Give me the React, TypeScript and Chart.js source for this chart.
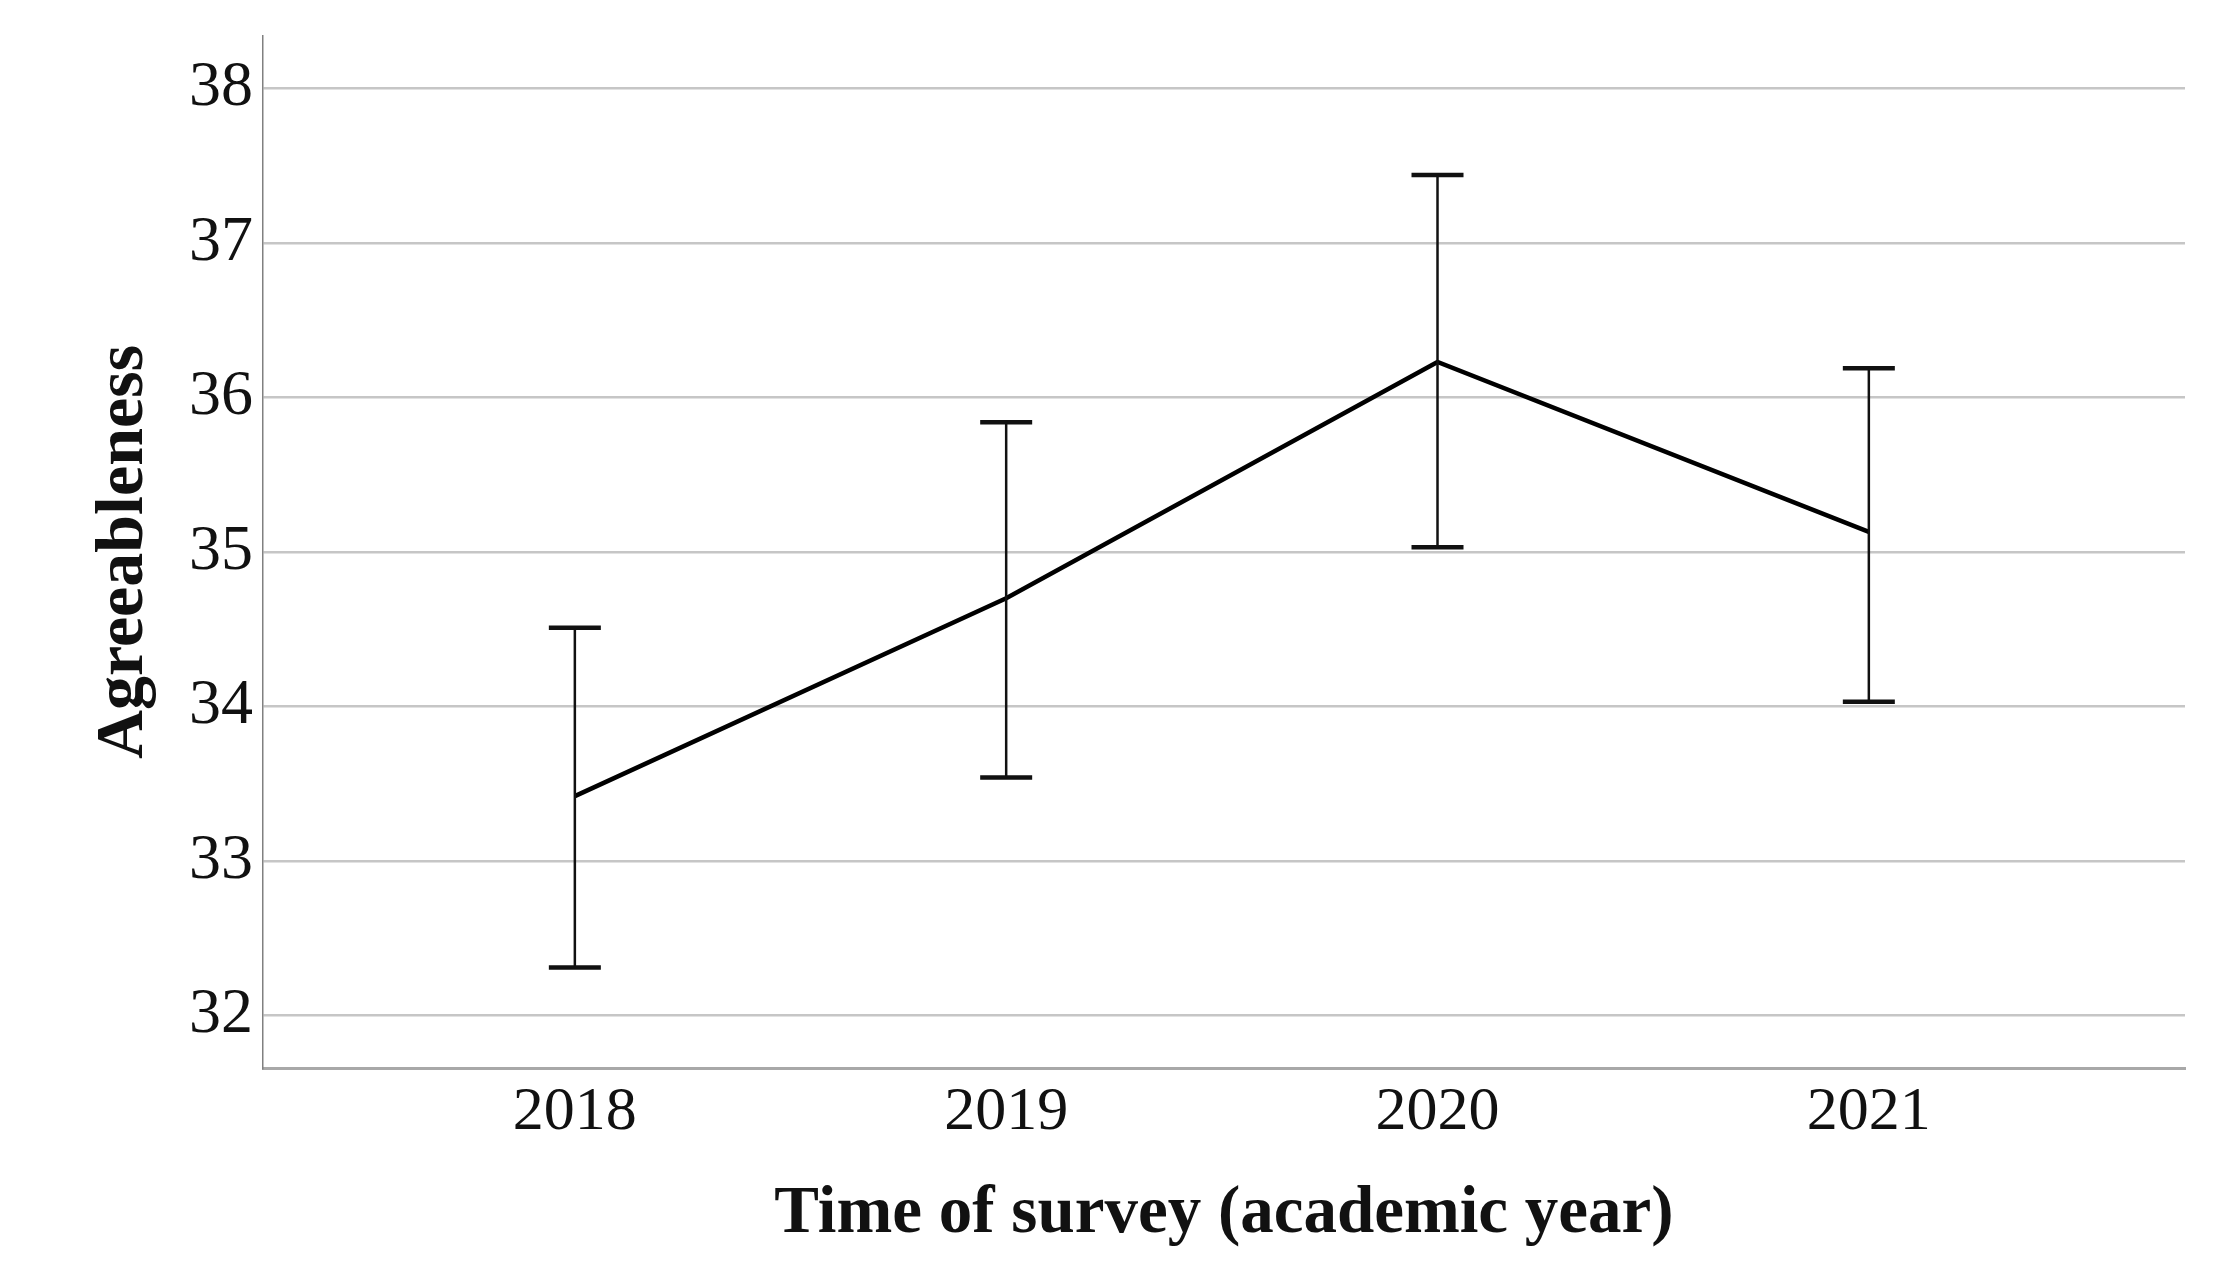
import React, { useEffect, useRef } from "react";
import { Chart, registerables } from "chart.js";

Chart.register(...registerables);

const years = ["2018", "2019", "2020", "2021"];
const means = [33.42, 34.7, 36.23, 35.13];
const lowerCI = [32.31, 33.54, 35.03, 34.03];
const upperCI = [34.51, 35.84, 37.44, 36.19];
const yTicks = [32, 33, 34, 35, 36, 37, 38];
const xTicks = [0, 1, 2, 3];

const errorBarPlugin = {
  id: "errorBars",
  afterDatasetsDraw(chart: any) {
    const ctx = chart.ctx;
    const xs = chart.scales.x;
    const ys = chart.scales.y;
    ctx.save();
    ctx.strokeStyle = "#111";
    ctx.lineCap = "butt";
    for (let i = 0; i < years.length; i++) {
      const px = xs.getPixelForValue(i);
      const pLo = ys.getPixelForValue(lowerCI[i]);
      const pHi = ys.getPixelForValue(upperCI[i]);
      ctx.lineWidth = 2.5;
      ctx.beginPath();
      ctx.moveTo(px, pLo);
      ctx.lineTo(px, pHi);
      ctx.stroke();
      ctx.lineWidth = 4.5;
      ctx.beginPath();
      ctx.moveTo(px - 26, pLo);
      ctx.lineTo(px + 26, pLo);
      ctx.moveTo(px - 26, pHi);
      ctx.lineTo(px + 26, pHi);
      ctx.stroke();
    }
    ctx.restore();
  },
};

export default function App() {
  const ref = useRef<HTMLCanvasElement | null>(null);
  useEffect(() => {
    if (!ref.current) return;
    const chart = new Chart(ref.current, {
      type: "line",
      data: {
        datasets: [
          {
            data: means.map((m, i) => ({ x: i, y: m })),
            borderColor: "#000",
            borderWidth: 4.5,
            pointRadius: 0,
            tension: 0,
            fill: false,
          },
        ],
      },
      options: {
        animation: false,
        responsive: true,
        maintainAspectRatio: false,
        layout: { padding: { top: 36, right: 55, left: 0, bottom: 0 } },
        plugins: { legend: { display: false }, tooltip: { enabled: false } },
        scales: {
          x: {
            type: "linear",
            min: -0.723,
            max: 3.733,
            afterBuildTicks: (s: any) => {
              s.ticks = xTicks.map((v) => ({ value: v }));
            },
            afterFit: (s: any) => {
              s.height = 220;
              s.paddingLeft = 0;
              s.paddingRight = 0;
            },
            grid: { display: false, drawTicks: false },
            border: { display: true, color: "#a8a8a8", width: 3 },
            ticks: {
              padding: 8,
              color: "#111",
              font: { family: "Liberation Serif", size: 62 },
              callback: (v: any) => years[v] ?? "",
              maxRotation: 0,
            },
            title: {
              display: true,
              text: "Time of survey (academic year)",
              color: "#111",
              font: { family: "Liberation Serif", size: 67, weight: "bold" },
              padding: { top: 0, bottom: 33 },
            },
          },
          y: {
            type: "linear",
            min: 31.66,
            max: 38.34,
            afterBuildTicks: (s: any) => {
              s.ticks = yTicks.map((v) => ({ value: v }));
            },
            afterFit: (s: any) => {
              s.width = 263;
              s.paddingTop = 0;
              s.paddingBottom = 0;
            },
            grid: { color: "#c6c6c6", lineWidth: 2.5, drawTicks: false },
            border: { display: true, color: "#808080", width: 1.5 },
            ticks: {
              padding: 10,
              color: "#111",
              font: { family: "Liberation Serif", size: 64 },
            },
            title: {
              display: true,
              text: "Agreeableness",
              color: "#111",
              font: { family: "Liberation Serif", size: 68, weight: "bold" },
              padding: { top: 84, bottom: 0 },
            },
          },
        },
      },
      plugins: [errorBarPlugin],
    });
    return () => chart.destroy();
  }, []);
  return (
    <div
      style={{
        position: "fixed",
        left: 0,
        top: 0,
        width: "2240px",
        height: "1288px",
        background: "#fff",
      }}
    >
      <canvas ref={ref} />
    </div>
  );
}
